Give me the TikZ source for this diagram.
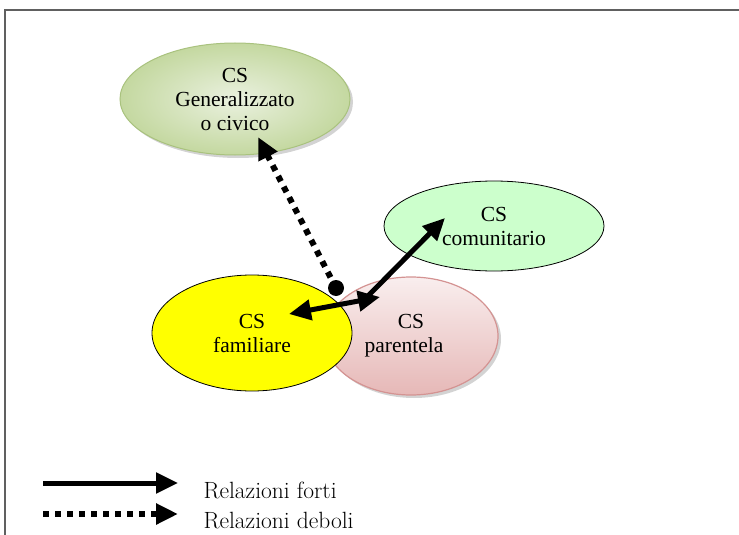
\documentclass[tikz,border=0pt]{standalone}
\usepackage{fontspec}
\newfontfamily\csfont{Liberation Serif}
\usetikzlibrary{arrows.meta,shapes.geometric,shadows}
\definecolor{civfill}{HTML}{C4D8A0}
\definecolor{civlight}{HTML}{EAF1DF}
\definecolor{civline}{HTML}{A9C27E}
\definecolor{comfill}{HTML}{CCFFCC}
\definecolor{famfill}{HTML}{FFFF00}
\definecolor{partop}{HTML}{F9EEEE}
\definecolor{parbot}{HTML}{E6B8B7}
\definecolor{parline}{HTML}{D49392}
\definecolor{frameline}{HTML}{606060}
\tikzset{
  cs/.style={ellipse,inner sep=0pt,align=center,
    font=\csfont\fontsize{21.5}{24}\selectfont},
  shade/.style={drop shadow={opacity=0.35,shadow xshift=3pt,shadow yshift=-3pt}},
  strong/.style={line width=5pt,-{Triangle[length=22pt,width=20pt]}},
  weak/.style={line width=6pt,dash pattern=on 6pt off 6pt,
    -{Triangle[length=22pt,width=20pt]}},
  legend/.style={anchor=west,font=\fontsize{23.5}{26}\selectfont}
}
\begin{document}
\begin{tikzpicture}[x=1pt,y=-1pt]
 \useasboundingbox (0,0) rectangle (739,535);
 \draw[frameline,line width=2pt] (5,535)--(5,10)--(739,10);
 % ellipses
 \node[cs,shade,draw=civline,line width=1pt,inner color=civlight,outer color=civfill,
   minimum width=230pt,minimum height=112pt] (civico) at (235,99)
   {CS\\Generalizzato\\o civico};
 \node[cs,draw=black,line width=0.8pt,fill=comfill,
   minimum width=220pt,minimum height=90pt] (comun) at (494,226) {CS\\comunitario};
 \node[cs,shade,draw=parline,line width=1.2pt,top color=partop,bottom color=parbot,
   minimum width=174pt,minimum height=118pt] (parent) at (411,336)
   {CS\\\hspace*{-14pt}parentela};
 \node[cs,draw=black,line width=0.8pt,fill=famfill,
   minimum width=200pt,minimum height=116pt] (famil) at (252,333) {CS\\familiare};
 % relations
 \coordinate (dotpt) at (336,288);
 \coordinate (civtip) at (258,137);
 \coordinate (partip) at (380,297);
 \coordinate (famtip) at (289,314);
 \coordinate (comstart) at (366,298);
 \coordinate (comtip) at (445,218);
 \draw[weak] (dotpt) -- (civtip);
 \fill (dotpt) circle (8pt);
 \draw[strong,{Triangle[length=22pt,width=20pt]}-{Triangle[length=22pt,width=20pt]}]
   (partip) -- (famtip);
 \draw[strong] (comstart) -- (comtip);
 % legend
 \node[legend] (forti) at (200,490) {Relazioni forti};
 \node[legend] (deboli) at (200,521) {Relazioni deboli};
 \coordinate (fs) at (43,483);
 \coordinate (fe) at (178,483);
 \coordinate (ds) at (43,514);
 \coordinate (de) at (178,514);
 \draw[strong] (fs) -- (fe);
 \draw[weak] (ds) -- (de);
\end{tikzpicture}
\end{document}
